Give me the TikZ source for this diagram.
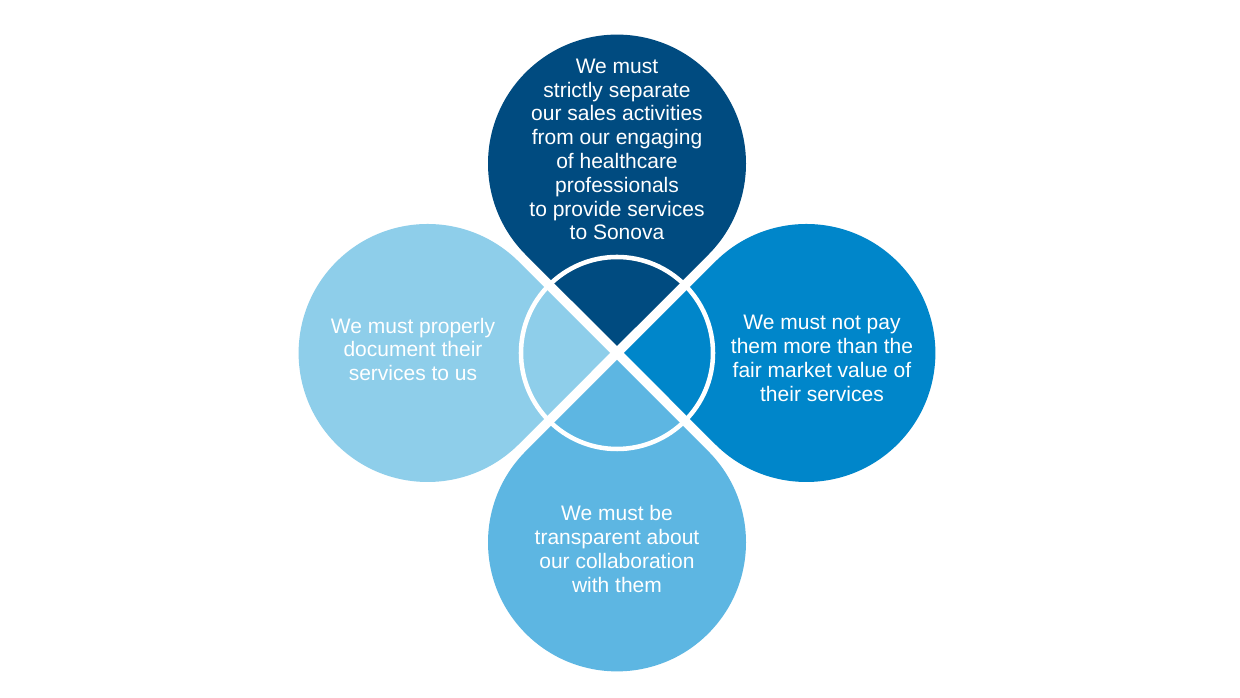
\documentclass[tikz,border=0pt]{standalone}
\usepackage{fontspec}
\setmainfont{Liberation Sans}
\usetikzlibrary{calc}
\definecolor{cTop}{HTML}{004B80}
\definecolor{cRight}{HTML}{0086CA}
\definecolor{cLeft}{HTML}{8ECEEA}
\definecolor{cBottom}{HTML}{5DB6E2}
\begin{document}
\begin{tikzpicture}[x=0.75pt,y=0.75pt,
  txt/.style={text=white,align=center,inner sep=0pt,font=\fontsize{15.75pt}{17.85pt}\selectfont},
  ring/.style={draw=white,line width=3.4pt}]
\useasboundingbox (0,0) rectangle (1240,698);
\fill[white] (0,0) rectangle (1240,698);
\coordinate (C) at (617,345);
\foreach \a/\c in {90/cTop,0/cRight,180/cLeft,270/cBottom}{
  \pgfmathsetmacro{\sa}{\a-135}
  \pgfmathsetmacro{\ea}{\a+135}
  \fill[\c] ($(C)+(\a:7)$) -- ($(C)+(\a:189.4)+(\sa:129)$)
     arc[start angle=\sa, end angle=\ea, radius=129] -- cycle;
}
\node[ring,circle,minimum size=192*0.75pt,inner sep=0pt] (ringc) at (C) {};
\node[txt] (ttop) at (617,548.5) {We must\\strictly separate\\our sales activities\\from our engaging\\of healthcare\\professionals\\to provide services\\to Sonova};
\node[txt] (tright) at (822,339.5) {We must not pay\\them more than the\\fair market value of\\their services};
\node[txt] (tleft) at (413,348.5) {We must properly\\document their\\services to us};
\node[txt] (tbottom) at (617,149) {We must be\\transparent about\\our collaboration\\with them};
\end{tikzpicture}
\end{document}
